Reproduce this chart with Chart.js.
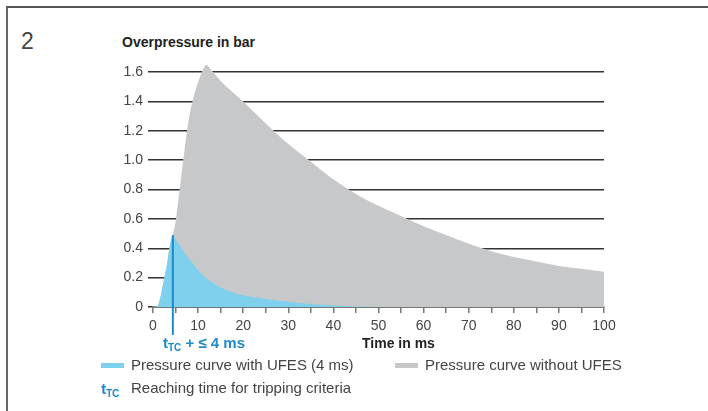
<!DOCTYPE html>
<html>
<head>
<meta charset="utf-8">
<script src="https://cdn.jsdelivr.net/npm/chart.js@4.4.1/dist/chart.umd.min.js"></script>
<style>
  html, body { margin: 0; padding: 0; background: #fff; }
  body { width: 708px; height: 411px; position: relative; overflow: hidden;
         font-family: "Liberation Sans", Arial, sans-serif; color: #444; }
  #frame { position: absolute; left: 6px; top: 6px; width: 720px; height: 420px;
           border-top: 2px solid #555; border-left: 2px solid #666; }
  .txt { position: absolute; white-space: nowrap; }
  #num { left: 21px; top: 28px; font-size: 23px; color: #444; }
  #ytitle { left: 122px; top: 34px; font-size: 14px; font-weight: bold; color: #222; }
  #xtitle { left: 362px; top: 335px; font-size: 14px; font-weight: bold; color: #222; }
  #ttc { left: 163px; top: 334px; font-size: 15px; font-weight: bold; color: #1a8ccc; }
  sub { font-size: 10px; vertical-align: -3px; line-height: 0; }
  .sw { position: absolute; height: 5px; width: 23px; }
  .leg { font-size: 15px; color: #444; }
  #wrap { position: absolute; left: 100px; top: 44px; width: 530px; height: 297px; }
</style>
</head>
<body>
<div id="frame"></div>
<div class="txt" id="num">2</div>
<div class="txt" id="ytitle">Overpressure in bar</div>
<div id="wrap"><canvas id="chart"></canvas></div>
<div class="txt" id="ttc">t<sub>TC</sub> + ≤ 4 ms</div>
<div class="txt" id="xtitle">Time in ms</div>
<div class="sw" style="left:101px;top:363px;background:#7fd0ec"></div>
<div class="txt leg" style="left:131px;top:356px">Pressure curve with UFES (4 ms)</div>
<div class="sw" style="left:395px;top:363px;background:#c7c8ca"></div>
<div class="txt leg" style="left:425px;top:356px">Pressure curve without UFES</div>
<div class="txt" style="left:101px;top:380px;font-size:15px;font-weight:bold;color:#1a8ccc">t<sub>TC</sub></div>
<div class="txt leg" style="left:131px;top:379px">Reaching time for tripping criteria</div>
<script>
// pressure curve without UFES (ms, bar)
var timeNoUfes = [0, 1, 1.5, 2, 2.5, 3, 3.65, 4.4, 5, 5.5, 6, 6.5, 7, 8, 9, 10, 11, 11.8, 13, 15, 20, 25, 30, 35, 40, 45, 50, 55, 60, 65, 70, 75, 80, 85, 90, 95, 100];
var pressureNoUfes = [0, 0.005, 0.05, 0.12, 0.2, 0.27, 0.4, 0.49, 0.58, 0.7, 0.82, 0.95, 1.07, 1.29, 1.43, 1.53, 1.61, 1.65, 1.61, 1.54, 1.40, 1.25, 1.11, 0.99, 0.87, 0.77, 0.69, 0.62, 0.55, 0.49, 0.43, 0.38, 0.34, 0.31, 0.28, 0.26, 0.24];

// pressure curve with UFES (4 ms)
var timeUfes = [0, 1, 1.5, 2, 2.5, 3, 3.65, 4.4, 5, 6, 7, 8, 10, 12, 14, 16, 18, 20, 22, 25, 30, 35, 40, 45, 50];
var pressureUfes = [0, 0.005, 0.05, 0.12, 0.2, 0.27, 0.4, 0.49, 0.46, 0.42, 0.37, 0.33, 0.25, 0.19, 0.15, 0.12, 0.095, 0.08, 0.068, 0.055, 0.035, 0.02, 0.01, 0.004, 0];

var tripTime = 4.4;
var tripPressure = 0.49;
var yTicks = [0, 0.2, 0.4, 0.6, 0.8, 1.0, 1.2, 1.4, 1.6];

function pts(xs, ys) {
  return xs.map(function (x, i) { return { x: x, y: ys[i] }; });
}

var tripLine = {
  id: "tripLine",
  afterDraw: function (chart) {
    var ctx = chart.ctx;
    var xs = chart.scales.x, ys = chart.scales.y;
    var px = xs.getPixelForValue(tripTime);
    ctx.save();
    ctx.strokeStyle = "#1a8ccc";
    ctx.lineWidth = 2;
    ctx.beginPath();
    ctx.moveTo(px, ys.getPixelForValue(tripPressure));
    ctx.lineTo(px, ys.getPixelForValue(-0.19));
    ctx.stroke();
    ctx.restore();
  }
};

var chart = new Chart(document.getElementById("chart").getContext("2d"), {
  type: "line",
  data: {
    datasets: [{
      label: "Pressure curve with UFES (4 ms)",
      data: pts(timeUfes, pressureUfes),
      backgroundColor: "#7fd0ec",
      borderWidth: 0,
      pointRadius: 0,
      fill: "origin",
      cubicInterpolationMode: "monotone",
      order: 0
    }, {
      label: "Pressure curve without UFES",
      data: pts(timeNoUfes, pressureNoUfes),
      backgroundColor: "#c7c8ca",
      borderWidth: 0,
      pointRadius: 0,
      fill: "origin",
      cubicInterpolationMode: "monotone",
      order: 1
    }]
  },
  plugins: [tripLine],
  options: {
    responsive: true,
    maintainAspectRatio: false,
    animation: false,
    layout: { padding: { top: 1.25, right: 26, left: 0, bottom: 0 } },
    plugins: { legend: { display: false }, tooltip: { enabled: false } },
    scales: {
      x: {
        type: "linear",
        min: 0,
        max: 100,
        afterFit: function (s) { s.height = 34; },
        border: { display: true, color: "#777", width: 2 },
        grid: { drawOnChartArea: false, drawTicks: true, tickLength: 6, color: "#777", lineWidth: 1.5 },
        ticks: {
          stepSize: 5,
          autoSkip: false,
          maxRotation: 0,
          padding: 5,
          color: "#444",
          font: { family: "Liberation Sans", size: 14 },
          callback: function (v) { return v % 10 === 0 ? v : ""; }
        }
      },
      y: {
        min: 0,
        max: 1.7,
        z: 1,
        afterFit: function (s) { s.width = 53; },
        afterBuildTicks: function (s) { s.ticks = yTicks.map(function (v) { return { value: v }; }); },
        border: { display: false },
        grid: { color: "#333", lineWidth: 1.5, tickLength: 5, drawTicks: true },
        ticks: {
          padding: 5,
          color: "#444",
          font: { family: "Liberation Sans", size: 14 },
          callback: function (v) { return v === 0 ? "0" : v.toFixed(1); }
        }
      }
    }
  }
});
</script>
</body>
</html>
